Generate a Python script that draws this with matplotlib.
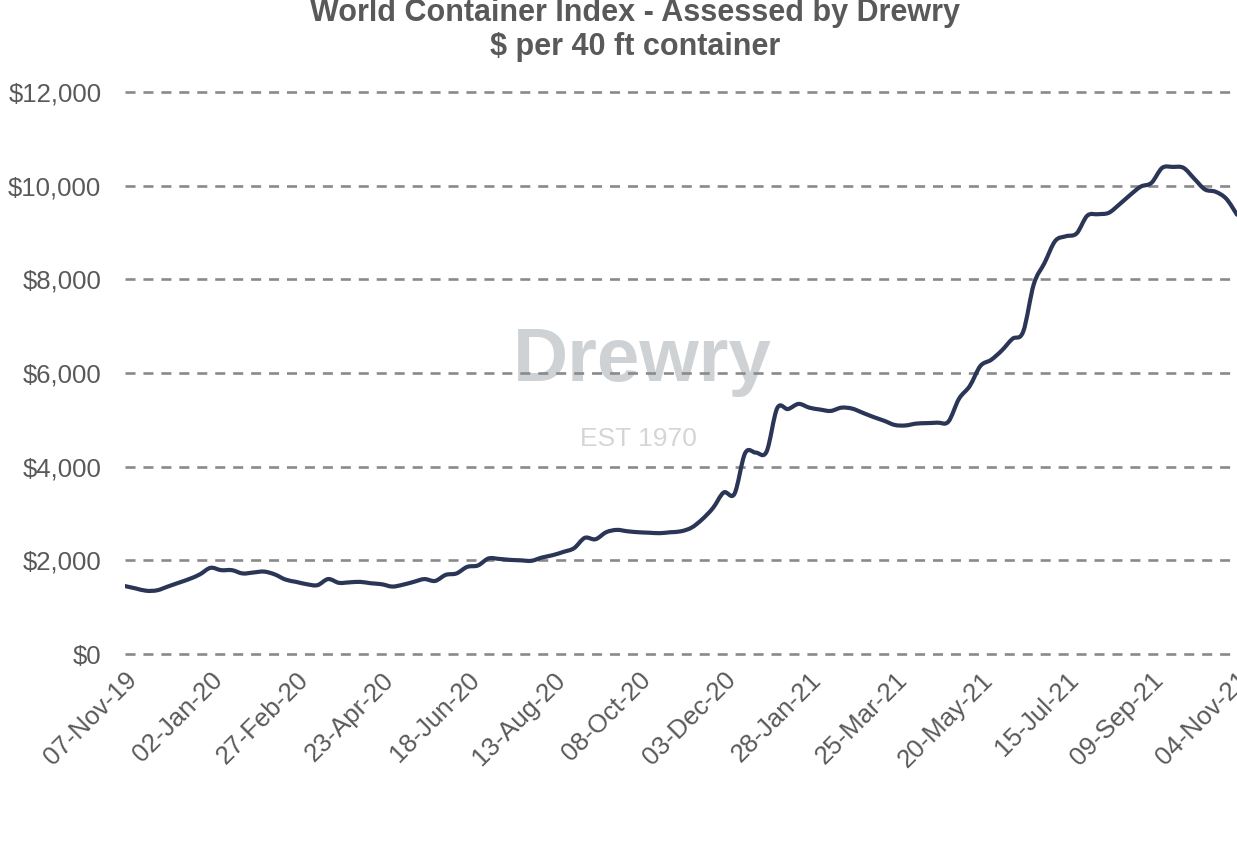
import matplotlib
matplotlib.use("Agg")
import matplotlib.pyplot as plt
from matplotlib.ticker import FuncFormatter
from matplotlib.path import Path
from matplotlib.patches import PathPatch

plt.rcParams['font.family'] = ['Liberation Sans', 'DejaVu Sans']

title_line1 = "World Container Index - Assessed by Drewry"
title_line2 = "\\$ per 40 ft container"

# Weekly index values, 07-Nov-19 .. 04-Nov-21 (105 weeks)
wci_values = [
    1450, 1400, 1350, 1360, 1440, 1520, 1600, 1700, 1840, 1790,
    1790, 1720, 1740, 1760, 1700, 1590, 1540, 1490, 1470, 1600,
    1520, 1530, 1540, 1510, 1490, 1440, 1480, 1540, 1600, 1560,
    1690, 1720, 1860, 1890, 2040, 2030, 2010, 2000, 1990, 2060,
    2110, 2180, 2260, 2480, 2450, 2600, 2650, 2620, 2600, 2590,
    2580, 2600, 2620, 2700, 2880, 3120, 3450, 3420, 4290, 4300,
    4320, 5250, 5230, 5340, 5260, 5220, 5190, 5260, 5240, 5150,
    5060, 4980, 4890, 4880, 4920, 4930, 4940, 4960, 5450, 5720,
    6150, 6280, 6480, 6730, 6880, 7900, 8350, 8820, 8920, 8980,
    9360, 9390, 9420, 9600, 9800, 9980, 10060, 10380, 10400, 10380,
    10150, 9920, 9870, 9720, 9380,
]
week_index = list(range(len(wci_values)))

tick_labels = ["07-Nov-19", "02-Jan-20", "27-Feb-20", "23-Apr-20", "18-Jun-20",
               "13-Aug-20", "08-Oct-20", "03-Dec-20", "28-Jan-21", "25-Mar-21",
               "20-May-21", "15-Jul-21", "09-Sep-21", "04-Nov-21"]
tick_positions = [0, 8, 16, 24, 32, 40, 48, 56, 64, 72, 80, 88, 96, 104]
y_ticks = [0, 2000, 4000, 6000, 8000, 10000, 12000]

W, H = 1237, 856
fig = plt.figure(figsize=(W / 100, H / 100), dpi=100)
left = 125 / W
right = 1237 / W
bottom = 1 - 654 / H
top = 1 - 92 / H
ax = fig.add_axes([left, bottom, right - left, top - bottom])

text_gray = "#595959"
grid_gray = "#8a8a8a"

# watermark
ax.text(0.465, 0.52, "Drewry", transform=ax.transAxes, ha="center", va="center",
        fontsize=55, fontweight="bold", color="#cfd2d5", zorder=0)
ax.text(0.462, 0.382, "EST 1970", transform=ax.transAxes, ha="center", va="center",
        fontsize=19, color="#d5d5d5", zorder=0)

for yv in y_ticks:
    ax.axhline(yv, color=grid_gray, lw=1.9, linestyle=(0, (3.8, 3.0)), zorder=1,
               clip_on=False)

# smoothed line (Catmull-Rom -> cubic Bezier) through the data points
xs, ys = week_index, wci_values
n = len(xs)
verts = [(xs[0], ys[0])]
codes = [Path.MOVETO]
for i in range(n - 1):
    x0, y0 = (xs[i - 1], ys[i - 1]) if i > 0 else (xs[i], ys[i])
    x1, y1 = xs[i], ys[i]
    x2, y2 = xs[i + 1], ys[i + 1]
    x3, y3 = (xs[i + 2], ys[i + 2]) if i + 2 < n else (xs[i + 1], ys[i + 1])
    c1 = (x1 + (x2 - x0) / 6.0, y1 + (y2 - y0) / 6.0)
    c2 = (x2 - (x3 - x1) / 6.0, y2 - (y3 - y1) / 6.0)
    verts += [c1, c2, (x2, y2)]
    codes += [Path.CURVE4, Path.CURVE4, Path.CURVE4]
ax.add_patch(PathPatch(Path(verts, codes), facecolor="none", edgecolor="#2b3656",
                       lw=3.0, zorder=3, capstyle="round", joinstyle="round"))

ax.set_xlim(0, 104)
ax.set_ylim(0, 12000)
ax.set_yticks(y_ticks)
ax.yaxis.set_major_formatter(FuncFormatter(lambda v, p: "\\$" + format(int(v), ",")))
ax.set_xticks(tick_positions)
ax.set_xticklabels(tick_labels, rotation=45, ha="right", rotation_mode="anchor")
ax.tick_params(axis="both", length=0, colors=text_gray)
ax.tick_params(axis="y", labelsize=18.5, pad=17)
ax.tick_params(axis="x", labelsize=18.5, pad=10)
for s in ax.spines.values():
    s.set_visible(False)
ax.grid(False)

fig.text(635 / W, 1 - 13 / H, title_line1, ha="center", va="center",
         fontsize=22, fontweight="bold", color=text_gray)
fig.text(635 / W, 1 - 47 / H, title_line2, ha="center", va="center",
         fontsize=22, fontweight="bold", color=text_gray)

fig.savefig("out.png", dpi=100)
